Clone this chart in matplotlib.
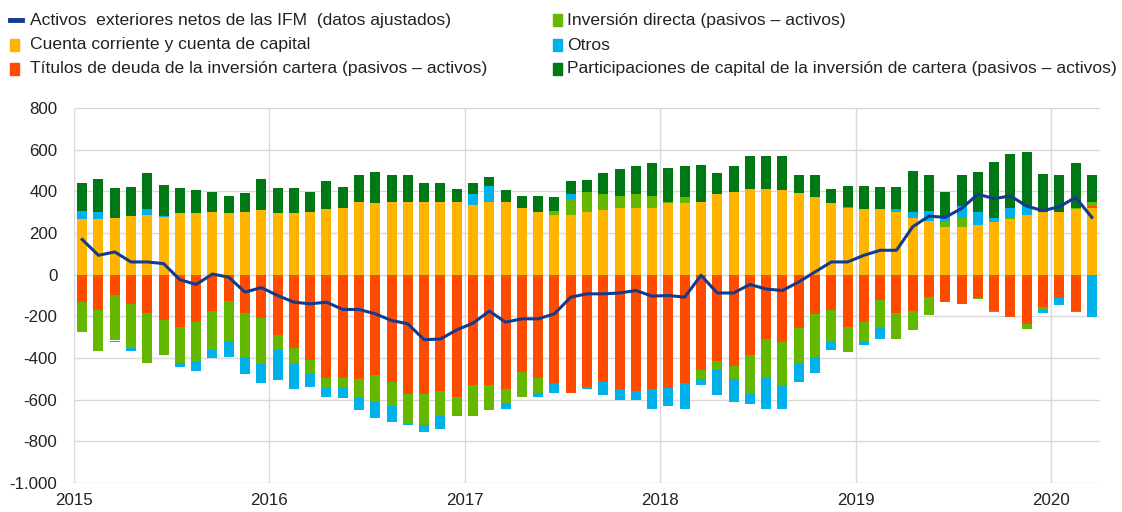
import matplotlib
matplotlib.use('Agg')
import matplotlib.pyplot as plt
from matplotlib.patches import Rectangle
from matplotlib.lines import Line2D
import numpy as np

plt.rcParams['font.family'] = ['Liberation Sans', 'DejaVu Sans']

# monthly data, Jan 2015 - Mar 2020 (EUR bn)
cuenta_corriente = [265, 265, 273, 280, 286, 278, 294, 294, 300, 294, 300, 309,
                    294, 294, 300, 315, 321, 350, 344, 350, 350, 350, 350, 350,
                    336, 350, 350, 321, 300, 286, 286, 300, 309, 321, 321, 321,
                    344, 344, 350, 386, 399, 413, 413, 407, 392, 371, 342, 321,
                    315, 315, 300, 272, 259, 230, 230, 238, 251, 265, 286, 300,
                    300, 315, 321]
titulos_deuda = [-132, -169, -96, -140, -182, -217, -252, -225, -175, -125, -182, -209,
                 -288, -352, -410, -495, -495, -501, -480, -516, -574, -574, -558, -587,
                 -530, -530, -551, -466, -495, -522, -566, -537, -516, -551, -558, -551,
                 -545, -522, -458, -416, -437, -387, -310, -325, -254, -188, -169, -252,
                 -225, -121, -182, -175, -108, -132, -140, -112, -175, -202, -238, -153,
                 -112, -175, 8]
inversion_directa = [-141, -196, -220, -212, -241, -170, -170, -191, -185, -191, -212, -220,
                     -72, -77, -63, -48, -42, -85, -133, -114, -140, -148, -114, -87,
                     -150, -121, -63, -121, -71, 22, 77, 98, 77, 56, 64, 56,
                     6, 27, -43, -35, -64, -186, -185, -206, -169, -206, -156, -121,
                     -100, -132, -127, -90, -84, 21, 42, -6, -6, 14, -21, -16,
                     0, 3, 21]
otros = [42, 35, -8, -16, 29, 5, -22, -48, -40, -77, -84, -92,
         -146, -121, -64, -43, -56, -63, -77, -77, -8, -34, -71, -6,
         50, 77, -29, 0, -21, -48, 22, -14, -63, -50, -43, -92,
         -85, -121, -29, -127, -112, -48, -148, -112, -93, -79, -35, 6,
         -13, -56, 14, 29, 48, 24, 58, 63, 21, 42, 43, -13,
         -34, -6, -202]
participaciones = [135, 157, 141, 143, 172, 148, 121, 112, 98, 84, 93, 149,
                   121, 121, 98, 133, 100, 129, 148, 129, 129, 92, 92, 63,
                   56, 43, 56, 56, 77, 63, 63, 58, 100, 129, 135, 157,
                   162, 149, 177, 100, 121, 157, 157, 164, 85, 106, 71, 100,
                   112, 106, 106, 198, 169, 124, 148, 191, 270, 256, 262, 185,
                   177, 220, 127]
activos_ifm = [169, 93, 109, 61, 61, 53, -24, -47, 3, -12, -84, -62,
               -100, -132, -140, -132, -167, -167, -188, -220, -236, -312, -309, -265,
               -233, -175, -228, -212, -212, -188, -108, -92, -92, -88, -76, -103,
               -100, -108, -3, -88, -88, -47, -69, -76, -35, 13, 61, 61,
               93, 117, 117, 230, 281, 275, 318, 386, 365, 378, 329, 307,
               326, 371, 275]

labels = ['Cuenta corriente y cuenta de capital',
          'Títulos de deuda de la inversión cartera (pasivos – activos)',
          'Inversión directa (pasivos – activos)',
          'Otros',
          'Participaciones de capital de la inversión de cartera (pasivos – activos)']
colors = ['#FFB400', '#FF4B00', '#65B800', '#00B1EA', '#007816']
line_label = 'Activos  exteriores netos de las IFM  (datos ajustados)'
line_color = '#153b8f'

n = len(activos_ifm)
x = 2015 + (np.arange(n) + 0.5) / 12.0
series = [cuenta_corriente, titulos_deuda, inversion_directa, otros, participaciones]

fig = plt.figure(figsize=(11.22, 5.12), dpi=100)
ax = fig.add_axes([74/1122, 29/512, 1026/1122, 375/512])

pos = np.zeros(n)
neg = np.zeros(n)
for vals, c in zip(series, colors):
    v = np.array(vals, dtype=float)
    bottom = np.where(v >= 0, pos, neg)
    ax.bar(x, v, width=0.62/12, bottom=bottom, color=c, linewidth=0, zorder=2)
    pos = pos + np.where(v >= 0, v, 0)
    neg = neg + np.where(v < 0, v, 0)

ax.plot(x, activos_ifm, color=line_color, lw=2.2, zorder=3)

ax.set_xlim(2015, 2020.25)
ax.set_ylim(-1000, 800)
ax.set_yticks(range(-1000, 801, 200))
ax.set_yticklabels([f'{v:,}'.replace(',', '.') for v in range(-1000, 801, 200)])
ax.set_xticks(range(2015, 2021))
ax.set_xticklabels([str(y) for y in range(2015, 2021)])
ax.grid(True, color='#d9d9d9', lw=1, zorder=0)
ax.set_axisbelow(True)
for s in ax.spines.values():
    s.set_visible(False)
ax.tick_params(length=0, labelsize=12.2, colors='#222222')
ax.tick_params(axis='y', pad=12)
ax.tick_params(axis='x', pad=7)
for t in ax.get_xticklabels():
    t.set_x(t.get_position()[0])
    t.set_horizontalalignment('center')

# legend drawn by hand, two columns
fs = 12.6
rows = [492, 467, 443]
fig.add_artist(Line2D([10/1122, 22/1122], [rows[0]/512]*2, color=line_color, lw=3.5))
fig.text(30/1122, rows[0]/512, line_label, fontsize=fs, va='center', color='#222222')
entries = [(14, rows[1], 0, 30), (14, rows[2], 1, 30),
           (557, rows[0], 2, 567), (557, rows[1], 3, 567), (557, rows[2], 4, 567)]
for mx, my, k, tx in entries:
    fig.add_artist(Rectangle(((mx - 4.5)/1122, (my - 6)/512), 9/1122, 12/512,
                             color=colors[k], transform=fig.transFigure))
    fig.text(tx/1122, my/512, labels[k], fontsize=fs, va='center', color='#222222')

fig.savefig('out.png', dpi=100)
